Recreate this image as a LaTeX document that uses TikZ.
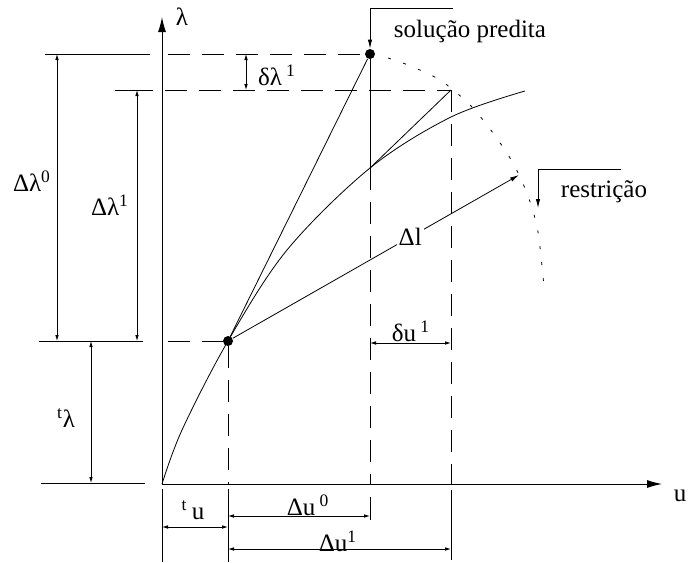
\documentclass[tikz,border=0pt]{standalone}
\usepackage{fontspec}
\setmainfont{Liberation Serif}
\usepackage{tikz}
\usetikzlibrary{arrows.meta,calc}
\tikzset{
  eixo/.style={-{Latex[length=7.5pt,width=4pt]},line width=0.5pt},
  cota/.style={{Latex[length=3pt,width=1.8pt]}-{Latex[length=3pt,width=1.8pt]},line width=0.4pt},
  seta/.style={-{Latex[length=4.5pt,width=2.2pt]},line width=0.4pt},
  linha/.style={line width=0.4pt},
  tracejado/.style={line width=0.4pt,dash pattern=on 11pt off 6pt},
  pontilhado/.style={line width=0.4pt,dash pattern=on 1.5pt off 6.5pt},
  ponto/.style={circle,fill,inner sep=0pt,minimum size=5pt},
}

\begin{document}
\begin{tikzpicture}[x=0.5pt,y=-0.5pt,font=\fontsize{12.5}{15}\selectfont]
  \useasboundingbox (0,0) rectangle (689,562);
  \coordinate (O) at (162,484);
  \coordinate (ly) at (162,17);
  \coordinate (ux) at (662,484);
  \node[ponto] (A) at (228,341) {};
  \node[ponto] (P) at (370,54) {};
  \coordinate (Q) at (451,90);
  \coordinate (C) at (370,168);
  \coordinate (R) at (519,175);
  \coordinate (sp0) at (453,8);
  \coordinate (rs0) at (621,169);
  \coordinate (rs1) at (538,208);
  % eixos
  \draw[eixo] (O) -- (ly);
  \draw[eixo] (O) -- (ux);
  \node (lam) at (182,17) {λ};
  \node (u) at (680,496) {u};
  % curva de equilibrio e restricao
  \draw[linha] plot[smooth,tension=0.55] coordinates {(O) (182,430) (A.center) (287,250) (C) (451,117) (525,91)};
  \draw[pontilhado] plot[smooth] coordinates {(388,58) (408,65) (440,80) (470,105) (493,133) (513,163) (528,196) (538,232) (544,287)};
  % retas
  \draw[linha] (A) -- (P);
  \draw[linha] (P) -- (C);
  \draw[linha] (Q) -- (C);
  \draw[seta] (A) -- node[fill=white,inner sep=1pt,pos=0.62] (dl) {Δl} (R);
  % linhas tracejadas
  \draw[tracejado,shorten <=3pt] (P -| O) -- (P);
  \draw[tracejado,shorten <=1.5pt] (Q -| O) -- (Q);
  \draw[tracejado,shorten <=3pt] (A -| O) -- (A);
  \draw[tracejado] (A) -- (A |- O);
  \draw[tracejado] (C) -- (C |- O);
  \draw[tracejado] (Q) -- (Q |- O);
  % linhas de chamada
  \draw[linha] (45,54) -- (150,54);
  \draw[linha] (115,90) -- (153,90);
  \draw[linha] (39,341) -- (143,341);
  \draw[linha] (41,483) -- (145,483);
  \draw[linha] (162,489) -- (162,562);
  \draw[linha] (228,489) -- (228,562);
  \draw[linha] (370,497) -- (370,520);
  \draw[linha] (451,490) -- (451,560);
  % cotas
  \draw[cota] (57,54) -- (57,341);
  \draw[cota] (137,90) -- (137,341);
  \draw[cota] (91,341) -- (91,483);
  \draw[cota] (246,54) -- (246,90);
  \draw[cota] (370,343) -- (451,343);
  \draw[cota] (162,527) -- (228,527);
  \draw[cota] (228,516) -- (370,516);
  \draw[cota] (228,549) -- (451,549);
  \node (dl0) at (32,181) {Δλ\textsuperscript{0}};
  \node (dl1) at (110,205) {Δλ\textsuperscript{1}};
  \node (tl) at (66,418) {\textsuperscript{t}λ};
  \node (ddl) at (277,75) {δλ\,\textsuperscript{1}};
  \node (du1) at (411,331) {δu\,\textsuperscript{1}};
  \node (tu) at (193,510) {\textsuperscript{t}\,u};
  \node (du0) at (308,505) {Δu\,\textsuperscript{0}};
  \node (Du1) at (338,541) {Δu\textsuperscript{1}};
  % rotulos
  \node (sp) at (470,31) {solução predita};
  \node (rs) at (604,192) {restrição};
  \draw[seta] (sp0) -| (P.north);
  \draw[seta] (rs0) -| (rs1);
\end{tikzpicture}
\end{document}
